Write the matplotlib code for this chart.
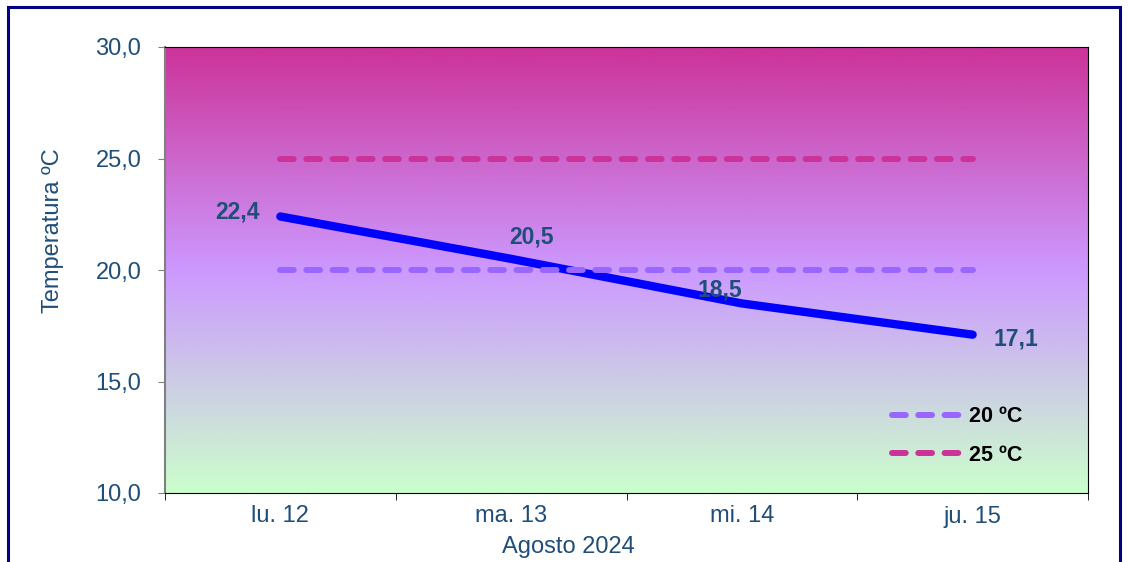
import numpy as np
import matplotlib.pyplot as plt
from matplotlib.colors import LinearSegmentedColormap
from matplotlib.patches import Rectangle
from matplotlib.lines import Line2D

days = ['lu. 12', 'ma. 13', 'mi. 14', 'ju. 15']
temps = [22.4, 20.5, 18.5, 17.1]
ref20 = [20, 20, 20, 20]
ref25 = [25, 25, 25, 25]
labels = ['22,4', '20,5', '18,5', '17,1']
yticks = [10, 15, 20, 25, 30]
ytick_labels = ['10,0', '15,0', '20,0', '25,0', '30,0']

txt = '#1F4E79'
plt.rcParams['font.family'] = ['Liberation Sans', 'DejaVu Sans']

W, H = 1128, 562
fig = plt.figure(figsize=(W / 100, H / 100), dpi=100)
ax = fig.add_axes([165 / W, 1 - 493 / H, (1088 - 165) / W, (493 - 47) / H])

x = np.arange(len(days))
ax.set_xlim(-0.5, 3.5)
ax.set_ylim(10, 30)

# gradient background
cmap = LinearSegmentedColormap.from_list('bg', ['#CCFFCC', '#CC99FF', '#CC3399'])
grad = np.linspace(0, 1, 256).reshape(-1, 1)
ax.imshow(grad, cmap=cmap, aspect='auto', origin='lower',
          extent=[0, 1, 0, 1], transform=ax.transAxes, zorder=0)

dash = (2.3, 2.1)
ax.plot(x, temps, color='#0000FF', lw=6, solid_capstyle='round', zorder=3)
ax.plot(x, ref20, color='#9966FF', lw=4.3, dashes=dash, dash_capstyle='round', zorder=4)
ax.plot(x, ref25, color='#CC3399', lw=4.3, dashes=dash, dash_capstyle='round', zorder=4)

offsets = [(-43, 4), (20, 22), (-22, 13), (43, -4)]
for xi, yi, lab, off in zip(x, temps, labels, offsets):
    ax.annotate(lab, (xi, yi), xytext=off, textcoords='offset pixels',
                ha='center', va='center', fontsize=16.5, fontweight='bold', color=txt, zorder=5)

ax.set_xticks(x)
ax.set_xticklabels(days, fontsize=17, color=txt)
ax.set_xticks(np.arange(-0.5, 4, 1), minor=True)
ax.tick_params(axis='x', which='major', length=0, pad=9)
ax.tick_params(axis='x', which='minor', length=5, color='black')
ax.set_yticks(yticks)
ax.set_yticklabels(ytick_labels, fontsize=17, color=txt)
ax.tick_params(axis='y', length=5, color='#808080', pad=12)

for s in ['top', 'right', 'bottom']:
    ax.spines[s].set_color('black')
ax.spines['left'].set_color('#808080')
ax.spines['left'].set_linewidth(1.5)

# axis titles sit off-centre in the original
fig.text(53 / W, 1 - 231 / H, 'Temperatura ºC', rotation=90, ha='center', va='center',
         fontsize=17, color=txt)
fig.text(568 / W, 1 - 547 / H, 'Agosto 2024', ha='center', va='center',
         fontsize=17, color=txt)

h20 = Line2D([], [], color='#9966FF', lw=4.3, dashes=dash, dash_capstyle='round')
h25 = Line2D([], [], color='#CC3399', lw=4.3, dashes=dash, dash_capstyle='round')
leg = ax.legend([h20, h25], ['20 ºC', '25 ºC'], loc='center left',
                bbox_to_anchor=(881 / W, 1 - 436 / H), bbox_transform=fig.transFigure,
                frameon=False, borderpad=0, handlelength=3.1, handletextpad=0.48,
                labelspacing=0.8, prop={'size': 15.5, 'weight': 'bold'})

fig.patches.append(Rectangle((8 / W, -0.1), (1120 - 8) / W, 1.1 - 7 / H,
                             transform=fig.transFigure, fill=False,
                             edgecolor='#000080', lw=2.2))

fig.savefig('out.png', dpi=100)
